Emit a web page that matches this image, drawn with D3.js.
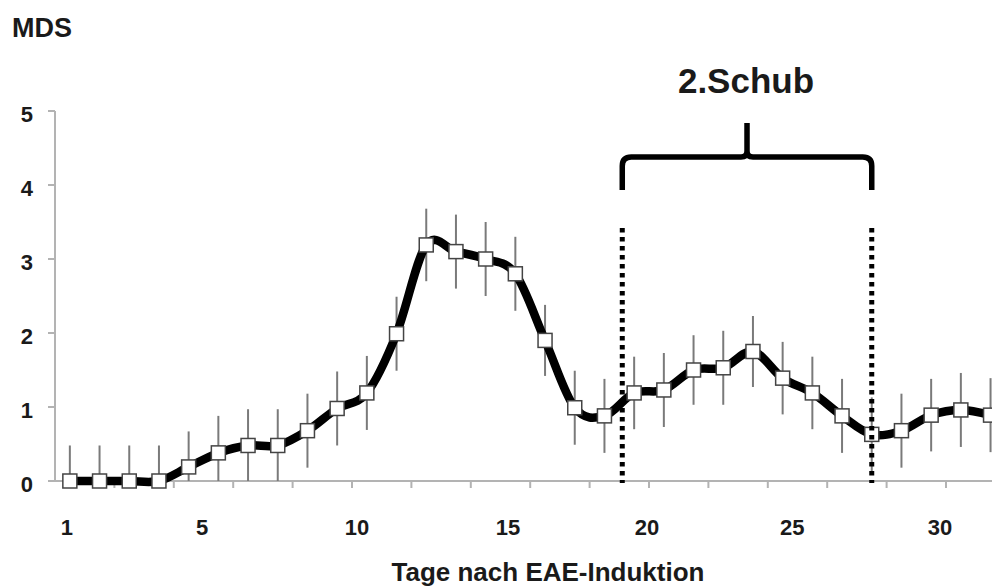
<!DOCTYPE html>
<html>
<head>
<meta charset="utf-8">
<script src="https://cdn.jsdelivr.net/npm/d3@7"></script>
<style>
  body { margin: 0; background: #fff; }
  svg { display: block; font-family: "Liberation Sans", Arial, sans-serif; font-weight: bold; }
</style>
</head>
<body>
<div id="chart"></div>
<script>
// Tage nach EAE-Induktion
const days = d3.range(1, 33);
// MDS Mittelwerte
const mds = [0, 0, 0, 0, 0.19, 0.38, 0.48, 0.48, 0.68, 0.98,
             1.19, 1.99, 3.19, 3.1, 3.0, 2.8, 1.9, 0.99, 0.88, 1.19,
             1.23, 1.5, 1.53, 1.75, 1.39, 1.19, 0.88, 0.63, 0.68, 0.89,
             0.96, 0.89];
// Fehlerbalken (+/-)
const err = [0.48, 0.48, 0.48, 0.48, 0.48, 0.5, 0.49, 0.49, 0.5, 0.5,
             0.5, 0.5, 0.49, 0.5, 0.5, 0.5, 0.48, 0.5, 0.5, 0.49,
             0.5, 0.47, 0.5, 0.48, 0.49, 0.49, 0.5, 0.5, 0.5, 0.49,
             0.5, 0.5];
const yTicks = [0, 1, 2, 3, 4, 5];
const xLabels = ['1', '5', '10', '15', '20', '25', '30'];
const xLabelDays = [0.9, 5.45, 10.67, 15.75, 20.43, 25.32, 30.3];
const xTickDays = d3.range(2.5, 32, 2);
const schubDays = [19.6, 28];   // 2. Schub: Beginn / Ende

const W = 992, H = 588;
const svg = d3.select('#chart').append('svg')
  .attr('width', W).attr('height', H);

const x = d3.scaleLinear().domain([0.5, 32.5]).range([55, 55 + 32 * 29.7]);
const y = d3.scaleLinear().domain([0, 5]).range([481, 111]);

// Achsen
const axisColor = '#b3b3b3';
svg.append('line')
  .attr('x1', x(0.5)).attr('x2', W)
  .attr('y1', y(0)).attr('y2', y(0))
  .attr('stroke', axisColor).attr('stroke-width', 2);
svg.append('line')
  .attr('x1', x(0.5)).attr('x2', x(0.5))
  .attr('y1', y(5)).attr('y2', y(0))
  .attr('stroke', axisColor).attr('stroke-width', 2);

svg.selectAll('.ytick').data(yTicks).enter().append('line')
  .attr('x1', x(0.5) - 7).attr('x2', x(0.5))
  .attr('y1', d => y(d)).attr('y2', d => y(d))
  .attr('stroke', axisColor).attr('stroke-width', 2);

svg.selectAll('.ylab').data(yTicks).enter().append('text')
  .attr('x', 33).attr('y', d => y(d) + 11)
  .attr('text-anchor', 'end')
  .attr('font-size', 22).attr('fill', '#1a1a1a')
  .text(d => d);

svg.selectAll('.xtick').data(xTickDays).enter().append('line')
  .attr('x1', d => x(d)).attr('x2', d => x(d))
  .attr('y1', y(0)).attr('y2', y(0) + 7)
  .attr('stroke', axisColor).attr('stroke-width', 2);

svg.selectAll('.xlab').data(xLabels).enter().append('text')
  .attr('x', (d, i) => x(xLabelDays[i]))
  .attr('y', 535)
  .attr('text-anchor', 'middle')
  .attr('font-size', 22).attr('fill', '#1a1a1a')
  .text(d => d);

svg.append('text')
  .attr('x', 548).attr('y', 581)
  .attr('text-anchor', 'middle')
  .attr('font-size', 26).attr('fill', '#1a1a1a')
  .text('Tage nach EAE-Induktion');

svg.append('text')
  .attr('x', 12).attr('y', 37)
  .attr('font-size', 27).attr('fill', '#1a1a1a')
  .text('MDS');

// Fehlerbalken
svg.selectAll('.err').data(days).enter().append('line')
  .attr('x1', d => x(d)).attr('x2', d => x(d))
  .attr('y1', (d, i) => y(Math.min(5, mds[i] + err[i])))
  .attr('y2', (d, i) => y(Math.max(0, mds[i] - err[i])))
  .attr('stroke', '#7a7a7a').attr('stroke-width', 2);

// Linie
const line = d3.line()
  .x((d, i) => x(days[i]))
  .y(d => y(d))
  .curve(d3.curveCardinal.tension(0));

svg.append('path')
  .datum(mds)
  .attr('d', line)
  .attr('fill', 'none')
  .attr('stroke', '#000')
  .attr('stroke-width', 8.5)
  .attr('stroke-linejoin', 'round');

// Marker
const ms = 14;
svg.selectAll('.pt').data(days).enter().append('rect')
  .attr('x', d => x(d) - ms / 2)
  .attr('y', (d, i) => y(mds[i]) - ms / 2)
  .attr('width', ms).attr('height', ms)
  .attr('fill', '#fff')
  .attr('stroke', '#444').attr('stroke-width', 1.5);

// gestrichelte Grenzen 2. Schub
svg.selectAll('.bound').data(schubDays).enter().append('line')
  .attr('x1', d => x(d)).attr('x2', d => x(d))
  .attr('y1', 228).attr('y2', y(0) + 2)
  .attr('stroke', '#000').attr('stroke-width', 5)
  .attr('stroke-dasharray', '4.5,4.5');

// Klammer
const bx0 = x(schubDays[0]), bx1 = x(schubDays[1]);
const bm = (bx0 + bx1) / 2;
const bTop = 123, bMid = 157, bEnd = 190, r = 9;
const brace = d3.path();
brace.moveTo(bx0, bEnd);
brace.lineTo(bx0, bMid + r);
brace.quadraticCurveTo(bx0, bMid, bx0 + r, bMid);
brace.lineTo(bm - 6, bMid);
brace.quadraticCurveTo(bm, bMid, bm, bMid - 6);
brace.lineTo(bm, bTop);
brace.moveTo(bm, bMid - 6);
brace.quadraticCurveTo(bm, bMid, bm + 6, bMid);
brace.lineTo(bx1 - r, bMid);
brace.quadraticCurveTo(bx1, bMid, bx1, bMid + r);
brace.lineTo(bx1, bEnd);

svg.append('path')
  .attr('d', brace.toString())
  .attr('fill', 'none')
  .attr('stroke', '#000')
  .attr('stroke-width', 5.5);

svg.append('text')
  .attr('x', 746).attr('y', 93)
  .attr('text-anchor', 'middle')
  .attr('font-size', 35).attr('fill', '#1a1a1a')
  .text('2.Schub');
</script>
</body>
</html>
